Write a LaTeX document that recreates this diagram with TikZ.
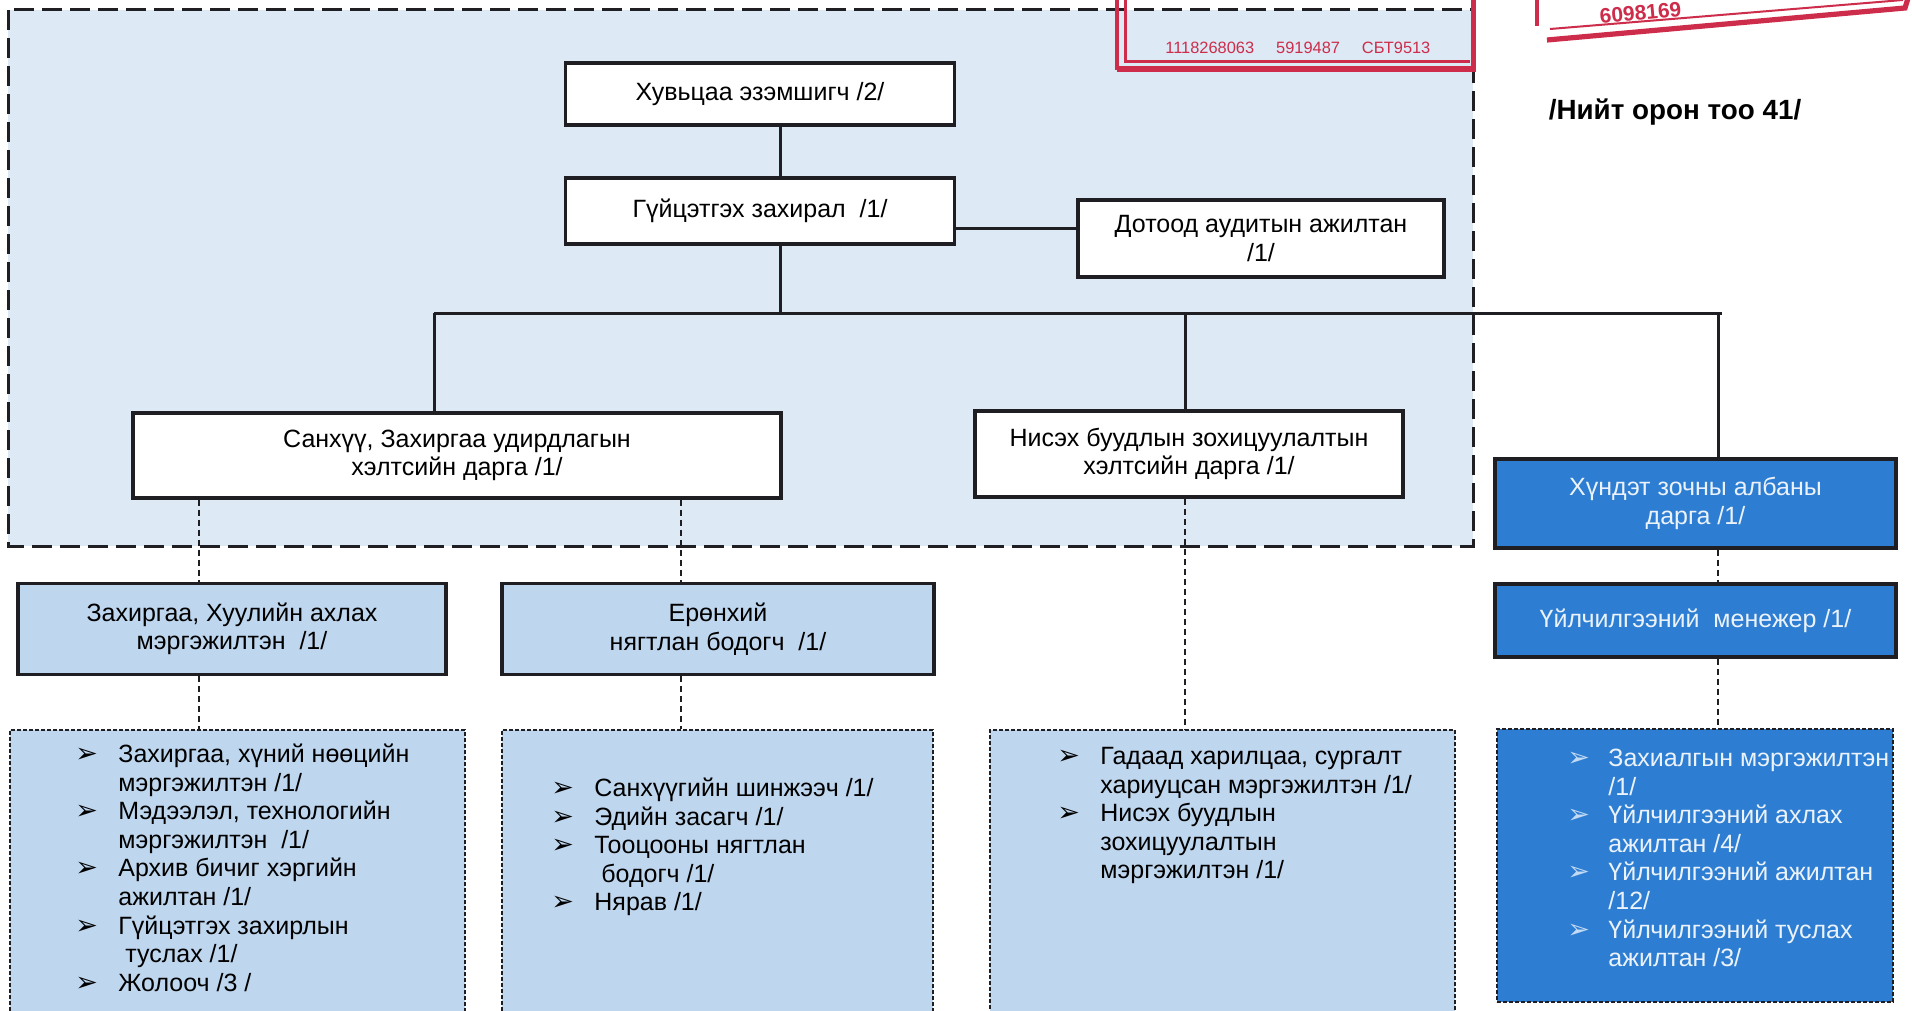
\documentclass[tikz,border=0pt]{standalone}
\usepackage{fontspec}
\setmainfont{Liberation Sans}
\newfontfamily\dejavu{DejaVu Sans}
\usetikzlibrary{calc}
\definecolor{regionbg}{RGB}{221,234,246}
\definecolor{lightbox}{RGB}{190,214,238}
\definecolor{darkbox}{RGB}{45,126,210}
\definecolor{framec}{RGB}{30,30,35}
\definecolor{stampred}{RGB}{205,45,75}
\definecolor{whitetext}{RGB}{236,242,250}
\definecolor{bulletpale}{RGB}{195,218,245}
\newcommand\bul{{\dejavu\fontsize{13.5}{12}\selectfont\char"27A2}}
\tikzset{
  sz/.style 2 args={minimum width=#1*0.5pt, minimum height=#2*0.5pt},
  solidbox/.style={draw=framec, line width=1.7pt, align=center, inner sep=0pt,
    font=\fontsize{12.5}{14.3}\selectfont},
  whitebox/.style={solidbox, fill=white},
  palebox/.style={solidbox, fill=lightbox},
  bluebox/.style={solidbox, fill=darkbox, text=whitetext},
  listframe/.style={draw=framec, line width=1pt, dash pattern=on 2pt off 1pt, inner sep=0pt},
  listtext/.style={anchor=north west, inner sep=0pt, align=left,
    font=\fontsize{12.5}{14.3}\selectfont},
  link/.style={draw=framec, line width=1.5pt},
  dlink/.style={draw=framec, line width=0.7pt, dash pattern=on 3pt off 2pt},
  regionframe/.style={draw=framec, line width=1.5pt, dash pattern=on 10pt off 4pt},
  stampline/.style={draw=stampred, line width=2pt},
}
\begin{document}
\begin{tikzpicture}[x=0.5pt,y=-0.5pt]
\useasboundingbox[fill=white] (0,0) rectangle (1912,1011);

% shaded management region
\draw[regionframe, fill=regionbg] (8,10) rectangle (1473,546);

% stamp 1
\draw[stampline] (1117,-5) -- (1117,70);
\draw[stampline, line width=1.5pt] (1125,-5) -- (1125,62) -- (1470,62);
\draw[stampline, line width=2.8pt] (1117,69) -- (1476,69);
\draw[stampline, line width=2.5pt] (1473,-5) -- (1473,72);
\node[text=stampred, anchor=base west, inner sep=0pt, font=\fontsize{8.2}{9}\selectfont]
  (stamptxt) at (1165,54) {1118268063\hspace{11pt}5919487\hspace{11pt}СБТ9513};

% stamp 2
\draw[stampline] (1537,-5) -- (1537,26);
\draw[stampline, line width=2.6pt] (1547,40) -- (1905,8) -- (1909,-5);
\draw[stampline, line width=1pt] (1550,29) -- (1903,0);
\node[text=stampred, anchor=base west, inner sep=0pt, rotate=5,
  font=\bfseries\fontsize{10.5}{13}\selectfont] (stamp2txt) at (1600,24) {6098169};

% total
\node[font=\bfseries\fontsize{13.9}{16}\selectfont, inner sep=0pt] (total) at (1675,112) {/Нийт орон тоо 41/};

% junction coordinates
\coordinate (spine) at (780,313);
\coordinate (busL) at (434,313);
\coordinate (busR) at (1722,313);
\coordinate (dropN) at (1185,313);
\coordinate (dropH) at (1718,313);
\coordinate (audY) at (0,228);
\coordinate (dA) at (199,0);
\coordinate (dB) at (681,0);

% boxes
\node[whitebox, sz={389}{62}] (own) at (760,94) {Хувьцаа эзэмшигч /2/};
\node[whitebox, sz={389}{66}] (ceo) at (760,211) {Гүйцэтгэх захирал\ \ /1/};
\node[whitebox, sz={366}{77}] (audit) at (1261,238.5) {Дотоод аудитын ажилтан\\/1/};
\node[whitebox, sz={648}{85}] (sanhuu) at (457,455.5) {Санхүү, Захиргаа удирдлагын\\хэлтсийн дарга /1/};
\node[whitebox, sz={428}{86}] (nisekh) at (1189,454) {Нисэх буудлын зохицуулалтын\\хэлтсийн дарга /1/};
\node[bluebox, sz={401}{89}] (hundet) at (1695.5,503.5) {Хүндэт зочны албаны\\дарга /1/};
\node[palebox, sz={428}{91}] (zakh) at (232,629) {Захиргаа, Хуулийн ахлах\\мэргэжилтэн\ \ /1/};
\node[palebox, sz={432}{91}] (yer) at (718,629) {Ерөнхий\\нягтлан бодогч\ \ /1/};
\node[bluebox, sz={401}{73}] (men) at (1695.5,620.5) {Үйлчилгээний\ \ менежер /1/};

% list frames
\node[listframe, fill=lightbox, sz={455}{283}] (l1) at (237.5,871.5) {};
\node[listframe, fill=lightbox, sz={431}{283}] (l2) at (717.5,871.5) {};
\node[listframe, fill=lightbox, sz={465}{283}] (l3) at (1222.5,871.5) {};
\node[listframe, fill=darkbox, sz={396}{273}] (l4) at (1695,865.5) {};

% list texts
\node[listtext] (t1) at (75,742) {\begin{tabular}{@{}p{21.5pt}@{}l@{}}
\bul & Захиргаа, хүний нөөцийн\\
 & мэргэжилтэн /1/\\
\bul & Мэдээлэл, технологийн\\
 & мэргэжилтэн\ \ /1/\\
\bul & Архив бичиг хэргийн\\
 & ажилтан /1/\\
\bul & Гүйцэтгэх захирлын\\
 & \ туслах /1/\\
\bul & Жолооч /3 /
\end{tabular}};
\node[listtext] (t2) at (551,776) {\begin{tabular}{@{}p{21.5pt}@{}l@{}}
\bul & Санхүүгийн шинжээч /1/\\
\bul & Эдийн засагч /1/\\
\bul & Тооцооны нягтлан\\
 & \ бодогч /1/\\
\bul & Нярав /1/
\end{tabular}};
\node[listtext] (t3) at (1057,744) {\begin{tabular}{@{}p{21.5pt}@{}l@{}}
\bul & Гадаад харилцаа, сургалт\\
 & хариуцсан мэргэжилтэн /1/\\
\bul & Нисэх буудлын\\
 & зохицуулалтын\\
 & мэргэжилтэн /1/
\end{tabular}};
\node[listtext, text=whitetext] (t4) at (1567,746) {\begin{tabular}{@{}p{20.5pt}@{}l@{}}
\textcolor{bulletpale}{\bul} & Захиалгын мэргэжилтэн\\
 & /1/\\
\textcolor{bulletpale}{\bul} & Үйлчилгээний ахлах\\
 & ажилтан /4/\\
\textcolor{bulletpale}{\bul} & Үйлчилгээний ажилтан\\
 & /12/\\
\textcolor{bulletpale}{\bul} & Үйлчилгээний туслах\\
 & ажилтан /3/
\end{tabular}};

% solid connectors
\draw[link] (own.south -| spine) -- (ceo.north -| spine);
\draw[link] (ceo.east |- audY) -- (audit.west |- audY);
\draw[link] (ceo.south -| spine) -- (spine);
\draw[link] (busL) -- (busR);
\draw[link] (busL) -- (sanhuu.north -| busL);
\draw[link] (dropN) -- (nisekh.north -| dropN);
\draw[link] (dropH) -- (hundet.north -| dropH);

% dashed connectors
\draw[dlink] (sanhuu.south -| dA) -- (zakh.north -| dA);
\draw[dlink] (zakh.south -| dA) -- (l1.north -| dA);
\draw[dlink] (sanhuu.south -| dB) -- (yer.north -| dB);
\draw[dlink] (yer.south -| dB) -- (l2.north -| dB);
\draw[dlink] (nisekh.south -| dropN) -- (l3.north -| dropN);
\draw[dlink] (hundet.south -| dropH) -- (men.north -| dropH);
\draw[dlink] (men.south -| dropH) -- (l4.north -| dropH);
\end{tikzpicture}
\end{document}
